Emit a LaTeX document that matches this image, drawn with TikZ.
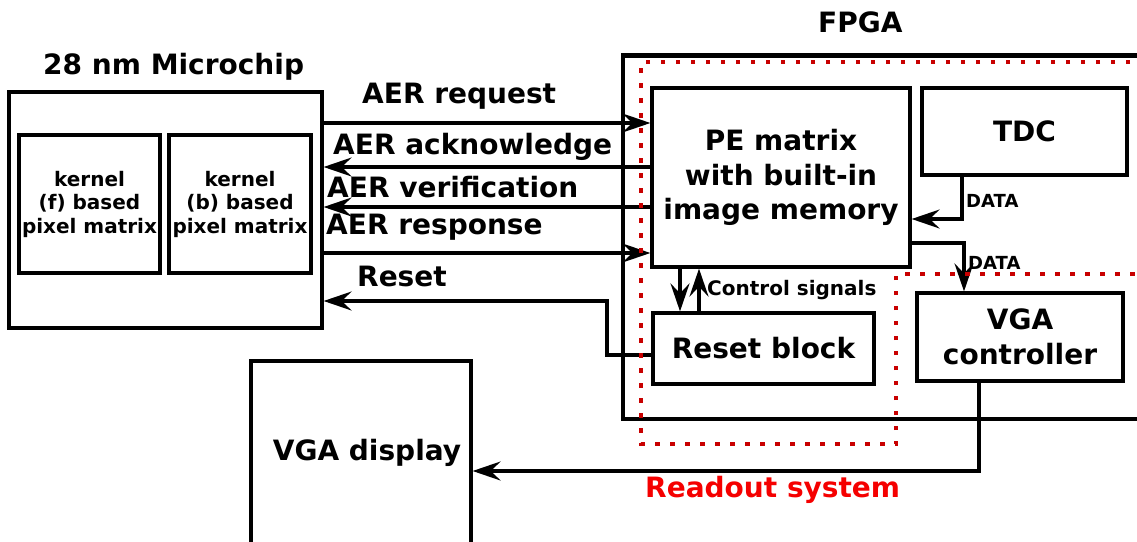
\documentclass[tikz,border=0pt]{standalone}
\usepackage{fontspec}
\setmainfont{DejaVu Sans}
\usetikzlibrary{arrows.meta}
\definecolor{dotred}{RGB}{200,0,0}
\definecolor{labred}{RGB}{245,0,0}

\begin{document}
\begin{tikzpicture}[x=1pt,y=-1pt,
  box/.style={draw, line width=3.2pt, inner sep=0pt, align=center,
    font=\bfseries\fontsize{28}{34.5}\selectfont},
  kbox/.style={draw, line width=4pt, inner sep=0pt, align=center,
    font=\bfseries\fontsize{20}{23.5}\selectfont},
  big/.style={inner sep=0pt, anchor=base west, font=\bfseries\fontsize{28}{34}\selectfont},
  mid/.style={inner sep=0pt, anchor=base west, font=\bfseries\fontsize{20}{24}\selectfont},
  small/.style={inner sep=0pt, anchor=base west, font=\bfseries\fontsize{18}{22}\selectfont},
  arr/.style={line width=3.2pt, -{Stealth[length=28pt 0 0,width=19pt 0 0,inset=10pt 0]}}]
\useasboundingbox (0,0) rectangle (1137,541);

% FPGA frame (open to the right)
\node[draw, line width=4.5pt, inner sep=0pt, minimum width=537pt, minimum height=363.5pt]
  (fpga) at (891.5,237.25) {};

% Microchip and its pixel matrices
\node[draw, line width=3.2pt, inner sep=0pt, minimum width=313pt, minimum height=236pt]
  (chip) at (165.5,210) {};
\node[kbox, minimum width=141pt, minimum height=138pt] (kf) at (89.5,204)
  {kernel\\(f) based\\pixel matrix};
\node[kbox, minimum width=142pt, minimum height=138pt] (kb) at (240,204)
  {kernel\\(b) based\\pixel matrix};

% FPGA blocks
\node[box, minimum width=258pt, minimum height=179pt] (pe) at (781,177.5)
  {PE matrix\\with built-in\\image memory};
\node[box, minimum width=205pt, minimum height=87pt] (tdc) at (1024.5,131.5) {TDC};
\node[box, minimum width=206pt, minimum height=88pt] (vgac) at (1020,337)
  {VGA\\controller};
\node[box, minimum width=221pt, minimum height=71pt] (rst) at (763.5,348.5) {Reset block};
\node[box, minimum width=220pt, minimum height=184pt] (vgad) at (361,453)
  {\hspace*{12pt}VGA display};

% Titles
\node[big] (tchip) at (43,74) {28 nm Microchip};
\node[big] (tfpga) at (818,32) {FPGA};
\node[big, text=labred] (tro) at (645,497) {Readout system};

% Routing heights and columns
\coordinate (hReq) at (0,123);
\coordinate (hAck) at (0,167);
\coordinate (hVer) at (0,207);
\coordinate (hRes) at (0,253);
\coordinate (hRst) at (0,301);
\coordinate (hRstB) at (0,355);
\coordinate (xRst) at (607,0);
\coordinate (xDn) at (680,0);
\coordinate (xUp) at (699,0);
\coordinate (xD1) at (962,0);
\coordinate (hD1) at (0,219);
\coordinate (hD2) at (0,243);
\coordinate (xD2) at (964,0);
\coordinate (xV) at (979,0);
\coordinate (hV) at (0,471);

% AER handshake
\draw[arr] (chip.east |- hReq) -- (pe.west |- hReq);
\draw[arr] (pe.west |- hAck) -- (chip.east |- hAck);
\draw[arr] (pe.west |- hVer) -- (chip.east |- hVer);
\draw[arr] (chip.east |- hRes) -- (pe.west |- hRes);
\draw[arr] (rst.west |- hRstB) -| (xRst |- hRst) -- (chip.east |- hRst);

\node[big] (lreq) at (362,103) {AER request};
\node[big] (lack) at (333,154) {AER acknowledge};
\node[big] (lver) at (327,197) {AER verification};
\node[big] (lres) at (326,234) {AER response};
\node[big] (lrst) at (357,286) {Reset};

% Control signals
\draw[arr] (pe.south -| xDn) -- (rst.north -| xDn);
\draw[arr] (rst.north -| xUp) -- (pe.south -| xUp);
\node[mid] (lctl) at (707,295) {Control signals};

% Data paths
\draw[arr] (tdc.south -| xD1) |- (pe.east |- hD1);
\draw[arr] (pe.east |- hD2) -| (vgac.north -| xD2);
\node[small] (ld1) at (966,207) {DATA};
\node[small] (ld2) at (968,269) {DATA};

% Video out
\draw[arr] (vgac.south -| xV) |- (vgad.east |- hV);

% Readout system outline
\draw[dotred, line width=4.5pt, dash pattern=on 4.5pt off 10.5pt]
  (1160,62) -- (641,62) -- (641,444) -- (896,444) -- (896,274) -- (1160,274);
\end{tikzpicture}
\end{document}
